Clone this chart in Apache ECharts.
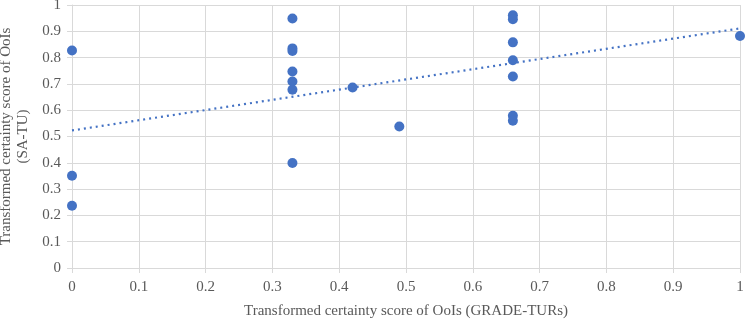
<!DOCTYPE html>
<html>
<head>
<meta charset="utf-8">
<script src="https://cdn.jsdelivr.net/npm/echarts@6/dist/echarts.min.js"></script>
<style>html,body{margin:0;padding:0;background:#fff;}#chart{width:746px;height:319px;}</style>
</head>
<body>
<div id="chart"></div>
<script>
// GRADE-TURs score vs SA-TU score
var gradeX = [0, 0, 0, 0.33, 0.33, 0.33, 0.33, 0.33, 0.33, 0.33, 0.42, 0.49, 0.66, 0.66, 0.66, 0.66, 0.66, 0.66, 0.66, 1];
var saTuY  = [0.827, 0.351, 0.237, 0.949, 0.835, 0.825, 0.747, 0.709, 0.678, 0.399, 0.686, 0.538, 0.961, 0.946, 0.858, 0.790, 0.728, 0.579, 0.560, 0.882];
// linear trendline, end points
var trendX = [0, 1];
var trendY = [0.523, 0.911];

var pts = gradeX.map(function (x, i) { return [x, saTuY[i]]; });
var trend = trendX.map(function (x, i) { return [x, trendY[i]]; });

var font = 'Liberation Serif, Times New Roman, serif';
var gridCol = '#d9d9d9';
var txtCol = '#595959';

var myChart = echarts.init(document.getElementById('chart'));
var option = {
	animation: false,
	textStyle: { fontFamily: font },
	grid: { left: 72, right: 6, top: 5, bottom: 51, containLabel: false, outerBoundsMode: 'none' },
	xAxis: {
		type: 'value', min: 0, max: 1, interval: 0.1,
		name: 'Transformed certainty score of OoIs (GRADE-TURs)',
		nameLocation: 'middle', nameGap: 36,
		nameTextStyle: { fontFamily: font, fontSize: 15, color: txtCol },
		axisLine: { show: true, lineStyle: { color: gridCol } },
		axisTick: { show: true, length: 5, lineStyle: { color: gridCol } },
		axisLabel: { fontFamily: font, fontSize: 15, color: txtCol, margin: 12 },
		splitLine: { show: true, lineStyle: { color: gridCol } }
	},
	yAxis: {
		type: 'value', min: 0, max: 1, interval: 0.1,
		name: 'Transformed certainty score of OoIs\n(SA-TU)',
		nameLocation: 'middle', nameGap: 31, nameRotate: 90,
		nameTextStyle: { fontFamily: font, fontSize: 15, color: txtCol, lineHeight: 17 },
		axisLine: { show: true, lineStyle: { color: gridCol } },
		axisTick: { show: true, length: 5, lineStyle: { color: gridCol } },
		axisLabel: { fontFamily: font, fontSize: 15, color: txtCol, margin: 11 },
		splitLine: { show: true, lineStyle: { color: gridCol } }
	},
	series: [{
		type: 'line',
		data: trend,
		symbol: 'none',
		lineStyle: { color: '#4472c4', width: 2.2, type: [2, 4] },
		z: 1
	}, {
		type: 'scatter',
		data: pts,
		symbolSize: 10,
		itemStyle: { color: '#4472c4', opacity: 1 },
		z: 2
	}]
};
myChart.setOption(option, true);
</script>
</body>
</html>
